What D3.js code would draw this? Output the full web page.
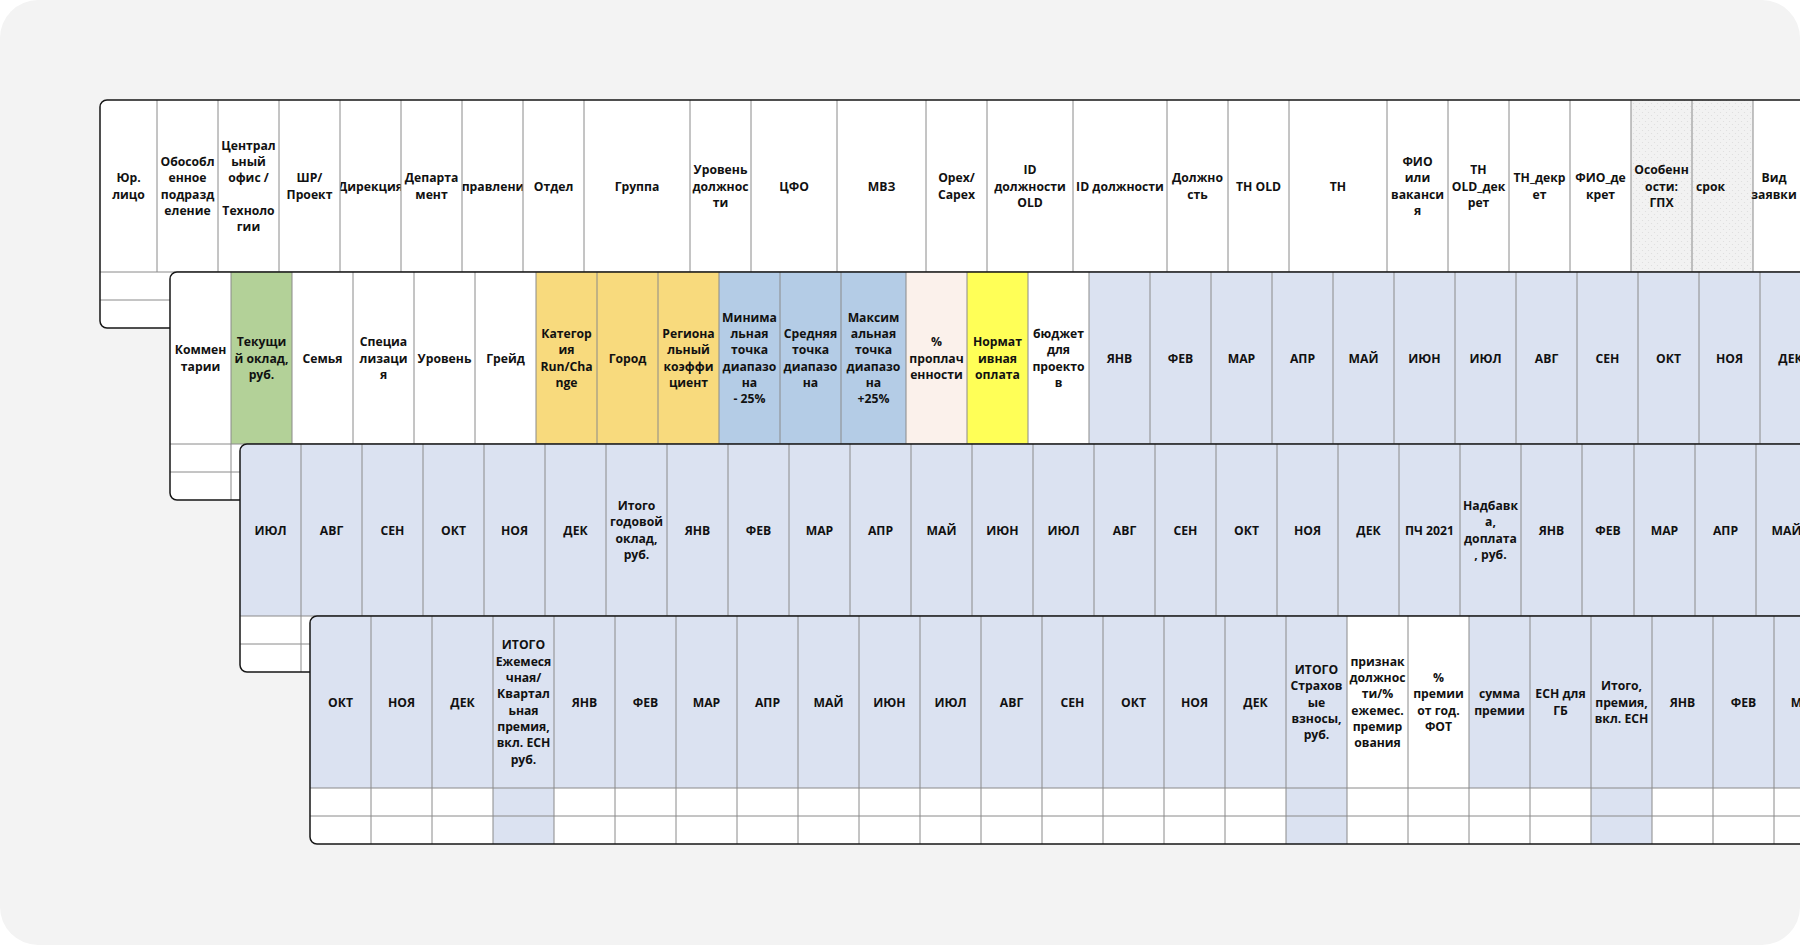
<!DOCTYPE html>
<html>
<head>
<meta charset="utf-8">
<script src="https://cdn.jsdelivr.net/npm/d3@7"></script>
<style>
  html, body { margin: 0; padding: 0; background: #fff; }
  svg { display: block; font-family: "Open Sans", "Noto Sans", sans-serif; }
</style>
</head>
<body>
<div id="chart"></div>
<script>
// === header labels per sheet strip (line breaks as in the sheet) ===
const p1Labels = [
  "Юр.\nлицо", "Обособл\nенное\nподразд\nеление", "Централ\nьный\nофис /\n\nТехноло\nгии",
  "ШР/\nПроект", "Дирекция", "Департа\nмент", "Управление", "Отдел", "Группа",
  "Уровень\nдолжнос\nти", "ЦФО", "МВЗ", "Opex/\nCapex", "ID\nдолжности\nOLD", "ID должности",
  "Должно\nсть", "ТН OLD", "ТН", "ФИО\nили\nваканси\nя", "ТН\nOLD_дек\nрет", "ТН_декр\nет",
  "ФИО_де\nкрет", "Особенн\nости:\nГПХ", "срок", "Вид\nзаявки"
];
const p1Fills = [
  "w","w","w","w","w","w","w","w","w","w","w","w","w","w","w",
  "w","w","w","w","w","w","w","d","d","w"
];

const months = ["ЯНВ","ФЕВ","МАР","АПР","МАЙ","ИЮН","ИЮЛ","АВГ","СЕН","ОКТ","НОЯ","ДЕК"];

const p2Labels = [
  "Коммен\nтарии", "Текущи\nй оклад,\nруб.", "Семья", "Специа\nлизаци\nя", "Уровень", "Грейд",
  "Категор\nия\nRun/Cha\nnge", "Город", "Региона\nльный\nкоэффи\nциент",
  "Минима\nльная\nточка\nдиапазо\nна\n- 25%", "Средняя\nточка\nдиапазо\nна",
  "Максим\nальная\nточка\nдиапазо\nна\n+25%", "%\nпроплач\nенности",
  "Нормат\nивная\nоплата", "бюджет\nдля\nпроекто\nв",
  ...months
];
const p2Fills = [
  "w","g","w","w","w","w","y","y","y","b","b","b","p","Y","w",
  ...months.map(() => "l")
];

const p3Labels = [
  ...months.slice(6), "Итого\nгодовой\nоклад,\nруб.",
  ...months, "ПЧ 2021", "Надбавк\nа,\nдоплата\n, руб.",
  ...months.slice(0, 6)
];
const p3Fills = p3Labels.map(() => "l");

const p4Labels = [
  ...months.slice(9),
  "ИТОГО\nЕжемеся\nчная/\nКвартал\nьная\nпремия,\nвкл. ЕСН\nруб.",
  ...months,
  "ИТОГО\nСтрахов\nые\nвзносы,\nруб.",
  "признак\nдолжнос\nти/%\nежемес.\nпремир\nования",
  "%\nпремии\nот год.\nФОТ",
  "сумма\nпремии", "ЕСН для\nГБ", "Итого,\nпремия,\nвкл. ЕСН",
  ...months.slice(0, 4)
];
const p4Fills = [
  "l","l","l","l", ...months.map(() => "l"),
  "l","w","w","l","l","l", "l","l","l","l"
];
// body rows: which columns are tinted
const p4RowFills = p4Labels.map((d, i) => [3, 16, 21].includes(i) ? "l" : "w");

// column widths (px), default 61
const p1Widths = p1Labels.map((d, i) => ({0: 57, 8: 106, 10: 86, 11: 89, 13: 86, 14: 94, 17: 98, 24: 42})[i] || 61);
const p2Widths = p2Labels.map((d, i) => i === 11 ? 65 : 61);
const p3Widths = p3Labels.map((d, i) => i === 22 ? 52 : 61);
const p4Widths = p4Labels.map(() => 61);

// === sizing ===
const W = 1800, H = 945;
const headH = 172, rowH = 28, nRows = 2;
const lineH = 16.3;
const palette = {
  w: "#ffffff", g: "#b3d198", y: "#f8da7d", b: "#b4cce6",
  l: "#dbe2f1", p: "#fbf1eb", Y: "#ffff57", d: "url(#dots)"
};

const svg = d3.select("#chart").append("svg")
  .attr("width", W).attr("height", H);

const defs = svg.append("defs");
const dots = defs.append("pattern")
  .attr("id", "dots").attr("patternUnits", "userSpaceOnUse")
  .attr("width", 6).attr("height", 6);
dots.append("rect").attr("width", 6).attr("height", 6).attr("fill", "#f2f2f2");
dots.append("circle").attr("cx", 1.5).attr("cy", 1.5).attr("r", 0.6).attr("fill", "#dcdcdc");
dots.append("circle").attr("cx", 4.5).attr("cy", 4.5).attr("r", 0.6).attr("fill", "#dcdcdc");

// page background card
svg.append("rect")
  .attr("width", W).attr("height", H).attr("rx", 38)
  .attr("fill", "#f3f3f3");

const strips = [
  { labels: p1Labels, fills: p1Fills, widths: p1Widths, rowFills: p1Labels.map(() => "w"), rowGrid: false, openEnd: true },
  { labels: p2Labels, fills: p2Fills, widths: p2Widths, rowFills: p2Labels.map(() => "w"), rowGrid: true },
  { labels: p3Labels, fills: p3Fills, widths: p3Widths, rowFills: p3Labels.map(() => "w"), rowGrid: true },
  { labels: p4Labels, fills: p4Fills, widths: p4Widths, rowFills: p4RowFills, rowGrid: true }
];

// cascading strips: each one shifted right & down
const stripX = d3.scaleLinear().domain([0, 1]).range([100, 170]);
const stripY = d3.scaleLinear().domain([0, 1]).range([100, 272]);

strips.forEach((s, si) => {
  const x0 = stripX(si), y0 = stripY(si);
  const totalH = headH + rowH * nRows;
  const edges = [0, ...d3.cumsum(s.widths)];
  const x = d3.scaleLinear().domain([0, 1]).range([x0, x0 + 1]); // offset -> page x
  const y = d3.scaleLinear().domain([0, 1]).range([y0, y0 + 1]);

  const clipId = `strip-clip-${si}`;
  defs.append("clipPath").attr("id", clipId)
    .append("rect")
    .attr("x", x0).attr("y", y0)
    .attr("width", W * 2).attr("height", totalH).attr("rx", 7);

  const g = svg.append("g").attr("class", "strip");
  const body = g.append("g").attr("clip-path", `url(#${clipId})`);

  body.append("rect")
    .attr("x", x0).attr("y", y0).attr("width", W * 2).attr("height", totalH)
    .attr("fill", "#fff");

  const cols = s.labels.map((label, i) => ({
    label, i, left: edges[i], right: edges[i + 1],
    fill: s.fills[i], rowFill: s.rowFills[i],
    last: i === s.labels.length - 1
  }));

  // header cells
  body.selectAll("rect.head").data(cols).join("rect")
    .attr("class", "head")
    .attr("x", d => x(d.left)).attr("y", y(0))
    .attr("width", d => d.right - d.left).attr("height", headH)
    .attr("fill", d => palette[d.fill]);

  // body cells
  d3.range(nRows).forEach(r => {
    body.selectAll(`rect.row${r}`).data(cols).join("rect")
      .attr("class", `row${r}`)
      .attr("x", d => x(d.left)).attr("y", y(headH + r * rowH))
      .attr("width", d => d.right - d.left).attr("height", rowH)
      .attr("fill", d => palette[d.rowFill]);
  });

  // vertical grid lines
  const gridBottom = s.rowGrid ? totalH : headH;
  const vEdges = s.openEnd ? edges.slice(1, -1) : edges.slice(1);
  body.selectAll("line.v").data(vEdges).join("line")
    .attr("class", "v")
    .attr("x1", d => x(d)).attr("x2", d => x(d))
    .attr("y1", y(0)).attr("y2", y(gridBottom))
    .attr("stroke", "#8a8a8a").attr("stroke-width", 1);

  // horizontal grid lines
  body.selectAll("line.h").data(d3.range(nRows).map(r => headH + r * rowH)).join("line")
    .attr("class", "h")
    .attr("x1", x0).attr("x2", x0 + W * 2)
    .attr("y1", d => y(d)).attr("y2", d => y(d))
    .attr("stroke", "#8a8a8a").attr("stroke-width", 1);

  // header texts, clipped to their cell
  cols.forEach(d => {
    const cid = `cell-${si}-${d.i}`;
    defs.append("clipPath").attr("id", cid)
      .append("rect")
      .attr("x", x(d.left) + 0.5).attr("y", y(0))
      .attr("width", d.right - d.left - 1).attr("height", headH);

    const lines = d.label.split("\n");
    const leftAlign = d.label === "срок";
    const t = body.append("text")
      .attr("font-size", 12.2).attr("font-weight", 700).attr("fill", "#111")
      .attr("text-anchor", leftAlign ? "start" : "middle");
    if (!(s.openEnd && d.last)) t.attr("clip-path", `url(#${cid})`);
    const cy = y(headH / 2);
    lines.forEach((ln, k) => {
      t.append("tspan")
        .attr("x", leftAlign ? x(d.left) + 4 : x((d.left + d.right) / 2))
        .attr("y", cy + (k - (lines.length - 1) / 2) * lineH)
        .attr("dominant-baseline", "central")
        .text(ln);
    });
  });

  // outer border
  g.append("rect")
    .attr("x", x0).attr("y", y0).attr("width", W * 2).attr("height", totalH).attr("rx", 7)
    .attr("fill", "none").attr("stroke", "#161616").attr("stroke-width", 1.5);
});
</script>
</body>
</html>
